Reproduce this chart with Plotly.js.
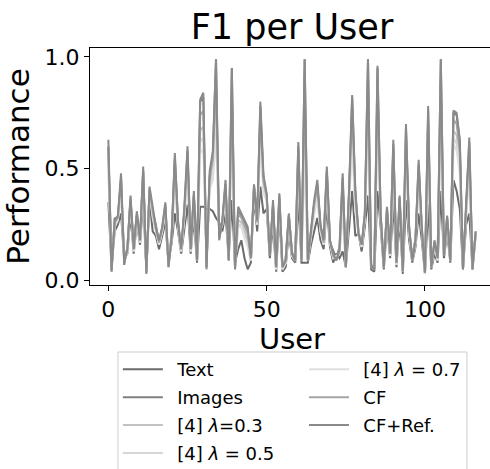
<!DOCTYPE html>
<html>
<head>
<meta charset="utf-8">
<script src="https://cdn.plot.ly/plotly-3.0.1.min.js"></script>
<style>
html,body{margin:0;padding:0;overflow:hidden;background:#fff;}
#chart{width:500px;height:469px;}
</style>
</head>
<body>
<div id="chart"></div>
<script>
// ---- data ----
const seriesNames = ["Text", "Images", "[4] <i>λ</i>=0.3", "[4] <i>λ</i> = 0.5", "[4] <i>λ</i> = 0.7", "CF", "CF+Ref."];

const textF1 = [0.35,0.06,0.22,0.25,0.30,0.10,0.12,0.30,0.12,0.26,0.16,0.36,0.05,0.36,0.22,0.20,0.14,0.20,0.26,0.08,
0.17,0.30,0.22,0.12,0.22,0.34,0.12,0.28,0.08,0.33,0.33,0.32,0.32,0.31,0.28,0.26,0.22,0.30,0.10,0.36,
0.08,0.14,0.18,0.10,0.05,0.08,0.38,0.22,0.42,0.30,0.32,0.10,0.25,0.04,0.30,0.04,0.06,0.22,0.10,0.08,
0.36,0.08,0.08,0.08,0.16,0.22,0.28,0.18,0.14,0.34,0.15,0.08,0.12,0.10,0.13,0.06,0.25,0.40,0.20,0.21,
0.13,0.24,0.38,0.05,0.04,0.40,0.24,0.05,0.25,0.10,0.35,0.06,0.28,0.03,0.36,0.18,0.08,0.15,0.30,0.18,
0.03,0.34,0.05,0.12,0.08,0.40,0.10,0.22,0.08,0.45,0.40,0.32,0.05,0.25,0.30,0.05,0.20];

const imagesF1 = [0.60,0.05,0.28,0.27,0.46,0.07,0.15,0.36,0.16,0.29,0.19,0.49,0.04,0.40,0.31,0.25,0.17,0.23,0.33,0.07,
0.21,0.55,0.27,0.13,0.31,0.58,0.15,0.38,0.10,0.80,0.82,0.06,0.47,0.56,0.99,0.19,0.26,0.43,0.10,0.95,
0.06,0.31,0.29,0.25,0.22,0.09,0.42,0.28,0.78,0.45,0.38,0.12,0.34,0.07,0.37,0.05,0.10,0.29,0.13,0.08,
0.60,0.10,0.99,0.10,0.23,0.34,0.43,0.24,0.19,0.49,0.17,0.13,0.10,0.15,0.46,0.07,0.38,0.82,0.39,0.22,
0.15,0.29,0.99,0.07,0.06,0.95,0.29,0.07,0.32,0.13,0.61,0.09,0.37,0.05,0.68,0.23,0.10,0.19,0.52,0.23,
0.04,0.76,0.07,0.17,0.11,0.99,0.12,0.28,0.10,0.75,0.74,0.62,0.06,0.33,0.62,0.06,0.21];

const lambda03F1 = [0.55,0.05,0.25,0.28,0.43,0.09,0.13,0.36,0.13,0.29,0.17,0.47,0.04,0.40,0.30,0.23,0.17,0.23,0.32,0.07,
0.19,0.49,0.25,0.13,0.30,0.52,0.13,0.36,0.09,0.67,0.69,0.08,0.44,0.50,0.78,0.20,0.26,0.41,0.09,0.77,
0.06,0.27,0.26,0.22,0.18,0.09,0.41,0.26,0.69,0.42,0.37,0.11,0.33,0.05,0.36,0.05,0.08,0.28,0.11,0.09,
0.54,0.09,0.72,0.09,0.22,0.32,0.40,0.23,0.17,0.46,0.17,0.11,0.10,0.13,0.38,0.06,0.36,0.70,0.35,0.21,
0.15,0.28,0.81,0.06,0.05,0.79,0.28,0.06,0.31,0.11,0.55,0.07,0.35,0.04,0.60,0.22,0.09,0.17,0.47,0.22,
0.03,0.65,0.06,0.16,0.09,0.81,0.11,0.27,0.09,0.67,0.65,0.54,0.05,0.32,0.54,0.05,0.21];

const lambda05F1 = [0.52,0.05,0.25,0.27,0.41,0.09,0.13,0.35,0.13,0.29,0.17,0.45,0.04,0.40,0.29,0.22,0.16,0.22,0.31,0.07,
0.19,0.46,0.24,0.13,0.29,0.50,0.13,0.35,0.09,0.62,0.64,0.10,0.42,0.47,0.71,0.21,0.25,0.39,0.09,0.71,
0.06,0.25,0.25,0.20,0.16,0.09,0.41,0.25,0.65,0.40,0.36,0.11,0.32,0.05,0.35,0.05,0.08,0.27,0.11,0.09,
0.52,0.09,0.63,0.09,0.21,0.30,0.38,0.22,0.16,0.44,0.17,0.10,0.10,0.12,0.34,0.06,0.34,0.66,0.33,0.21,
0.15,0.28,0.75,0.06,0.05,0.74,0.28,0.06,0.30,0.11,0.52,0.07,0.34,0.04,0.56,0.22,0.09,0.17,0.44,0.22,
0.03,0.60,0.06,0.16,0.09,0.75,0.11,0.26,0.09,0.64,0.61,0.51,0.05,0.31,0.50,0.05,0.21];

const lambda07F1 = [0.49,0.05,0.24,0.27,0.39,0.09,0.13,0.34,0.13,0.28,0.17,0.44,0.04,0.39,0.28,0.22,0.16,0.22,0.31,0.07,
0.19,0.44,0.24,0.13,0.28,0.47,0.13,0.34,0.09,0.57,0.59,0.12,0.41,0.45,0.64,0.22,0.25,0.38,0.10,0.66,
0.07,0.24,0.24,0.19,0.15,0.09,0.40,0.25,0.61,0.39,0.36,0.11,0.31,0.05,0.35,0.05,0.08,0.26,0.11,0.09,
0.49,0.09,0.54,0.09,0.20,0.29,0.37,0.22,0.16,0.43,0.17,0.10,0.11,0.12,0.31,0.06,0.33,0.62,0.31,0.21,
0.15,0.27,0.69,0.06,0.05,0.68,0.27,0.06,0.29,0.11,0.49,0.07,0.33,0.04,0.53,0.21,0.09,0.17,0.42,0.21,
0.03,0.56,0.06,0.15,0.09,0.70,0.11,0.26,0.09,0.61,0.58,0.48,0.05,0.30,0.47,0.05,0.21];

const cfF1 = [0.59,0.04,0.26,0.28,0.45,0.09,0.14,0.37,0.14,0.30,0.18,0.49,0.03,0.41,0.31,0.23,0.17,0.23,0.34,0.06,
0.20,0.53,0.25,0.14,0.31,0.56,0.14,0.38,0.09,0.74,0.76,0.06,0.46,0.54,0.90,0.19,0.26,0.43,0.09,0.86,
0.05,0.30,0.28,0.24,0.21,0.10,0.42,0.26,0.74,0.44,0.38,0.11,0.34,0.06,0.38,0.06,0.09,0.29,0.12,0.09,
0.58,0.09,0.85,0.09,0.23,0.34,0.42,0.24,0.17,0.48,0.18,0.11,0.09,0.13,0.43,0.06,0.38,0.76,0.38,0.21,
0.16,0.29,0.90,0.06,0.05,0.88,0.29,0.06,0.32,0.12,0.59,0.08,0.37,0.04,0.65,0.23,0.09,0.18,0.50,0.23,
0.035,0.71,0.06,0.17,0.10,0.90,0.11,0.28,0.09,0.72,0.70,0.58,0.05,0.34,0.59,0.05,0.22];

const cfRefF1 = [0.63,0.04,0.27,0.29,0.48,0.08,0.14,0.38,0.14,0.31,0.18,0.51,0.03,0.42,0.33,0.24,0.18,0.24,0.35,0.06,
0.20,0.57,0.26,0.14,0.33,0.60,0.14,0.40,0.09,0.81,0.84,0.05,0.49,0.58,0.99,0.18,0.27,0.45,0.09,0.95,
0.05,0.33,0.30,0.27,0.24,0.10,0.43,0.27,0.80,0.47,0.39,0.11,0.36,0.06,0.39,0.06,0.09,0.30,0.12,0.09,
0.62,0.09,0.99,0.09,0.24,0.36,0.45,0.25,0.18,0.51,0.18,0.12,0.09,0.14,0.48,0.06,0.40,0.83,0.41,0.21,
0.16,0.30,0.99,0.06,0.05,0.96,0.30,0.06,0.33,0.12,0.63,0.08,0.38,0.04,0.70,0.24,0.09,0.18,0.54,0.24,
0.035,0.78,0.06,0.18,0.10,0.99,0.11,0.29,0.09,0.76,0.75,0.63,0.05,0.35,0.64,0.05,0.22];

const xTickVals = [0, 50, 100];
const yTickVals = [0.0, 0.5, 1.0];
const yTickText = ["0.0", "0.5", "1.0"];

// ---- chart ----
const allSeries = [textF1, imagesF1, lambda03F1, lambda05F1, lambda07F1, cfF1, cfRefF1];
const colors = ["#6b6b6b", "#7f7f7f", "#c2c2c2", "#d6d6d6", "#dfdfdf", "#a5a5a5", "#8a8a8a"];
const legendIds = ["legend", "legend", "legend", "legend", "legend2", "legend2", "legend2"];
const users = Array.from({length: cfRefF1.length}, (_, i) => i);

const traces = allSeries.map((ys, i) => ({
  x: users,
  y: ys,
  type: "scatter",
  mode: "lines",
  name: "\u00A0\u2009" + seriesNames[i],
  line: {color: colors[i], width: 2},
  legend: legendIds[i],
  legendgroup: "g" + i,
  hoverinfo: "skip"
}));

const font = "DejaVu Sans, sans-serif";
const legendCommon = {
  orientation: "v",
  xref: "paper", xanchor: "left",
  yref: "paper", y: -0.279, yanchor: "top",
  itemwidth: 40,
  font: {family: font, size: 18, color: "#000"},
  bgcolor: "rgba(0,0,0,0)", borderwidth: 0,
  traceorder: "grouped", tracegroupgap: 1.5
};
const layout = {
  width: 500,
  height: 469,
  margin: {l: 90, r: 6, t: 48, b: 184, autoexpand: false},
  paper_bgcolor: "#fff",
  plot_bgcolor: "#fff",
  font: {family: font, color: "#000"},
  title: {
    text: "F1 per User",
    font: {family: font, size: 35, color: "#000"},
    xref: "paper", x: 0.5, xanchor: "center",
    yref: "container", y: 0.942, yanchor: "middle"
  },
  xaxis: {
    range: [-5.8, 121.8],
    tickvals: xTickVals,
    ticks: "outside", ticklen: 5, tickwidth: 1, tickcolor: "#000",
    tickfont: {family: font, size: 22, color: "#000"},
    showgrid: false, zeroline: false,
    showline: true, linecolor: "#000", linewidth: 1, mirror: true,
    title: {text: "User", font: {family: font, size: 29, color: "#000"}, standoff: 4}
  },
  yaxis: {
    range: [-0.02, 1.04],
    tickvals: yTickVals, ticktext: yTickText,
    ticks: "outside", ticklen: 5, tickwidth: 1, tickcolor: "#000",
    tickfont: {family: font, size: 22, color: "#000"},
    showgrid: false, zeroline: false,
    showline: true, linecolor: "#000", linewidth: 1, mirror: true,
    title: {text: "Performance", font: {family: font, size: 31, color: "#000"}, standoff: 8}
  },
  showlegend: true,
  legend: Object.assign({}, legendCommon, {x: 0.069}),
  legend2: Object.assign({}, legendCommon, {x: 0.5297}),
  shapes: [{
    type: "rect", xref: "paper", yref: "paper",
    x0: 0.0693, x1: 0.933, y0: -0.2827, y1: -0.85,
    line: {color: "#cccccc", width: 1}, fillcolor: "rgba(0,0,0,0)", layer: "below"
  }]
};

Plotly.newPlot("chart", traces, layout, {displayModeBar: false, staticPlot: true});
</script>
</body>
</html>
